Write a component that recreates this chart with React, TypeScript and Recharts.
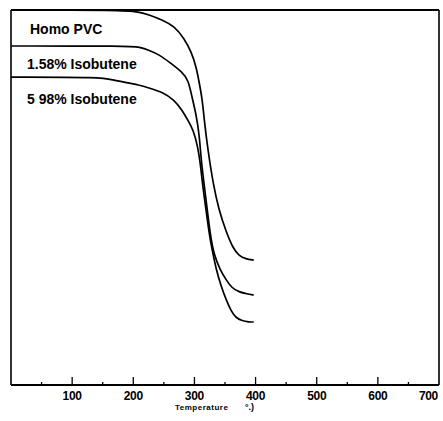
import { LineChart, Line, XAxis, YAxis, Label, ReferenceLine, CartesianGrid } from "recharts";

// thermogravimetric curves: temperature (C) vs weight (%)
const homoPvc = [
  { t: 0, w: 100 }, { t: 180, w: 100 }, { t: 210, w: 99.5 }, { t: 226, w: 98.7 },
  { t: 248, w: 97.3 }, { t: 267, w: 95.7 }, { t: 283, w: 92.5 }, { t: 295, w: 88.8 },
  { t: 303, w: 84.8 }, { t: 308, w: 80.5 }, { t: 313, w: 76 }, { t: 316, w: 70.7 },
  { t: 322, w: 62.7 }, { t: 331, w: 53.3 }, { t: 340, w: 46.7 }, { t: 352, w: 40.8 },
  { t: 363, w: 36.5 }, { t: 373, w: 34.4 }, { t: 384, w: 33.6 }, { t: 397, w: 33.3 },
];

const iso158 = [
  { t: 0, w: 90.4 }, { t: 194, w: 90.4 }, { t: 210, w: 90.1 }, { t: 226, w: 89.3 },
  { t: 243, w: 88 }, { t: 259, w: 86.1 }, { t: 280, w: 83.5 }, { t: 290, w: 81.3 },
  { t: 296, w: 76.8 }, { t: 303, w: 72 }, { t: 308, w: 66.7 }, { t: 311, w: 60 },
  { t: 316, w: 53.3 }, { t: 321, w: 46.7 }, { t: 326, w: 40 }, { t: 332, w: 34.7 },
  { t: 342, w: 30.7 }, { t: 352, w: 28 }, { t: 361, w: 25.9 }, { t: 373, w: 24.8 },
  { t: 386, w: 24.3 }, { t: 397, w: 24 },
];

const iso598 = [
  { t: 0, w: 82.1 }, { t: 150, w: 82.1 }, { t: 167, w: 81.3 }, { t: 183, w: 80.8 },
  { t: 210, w: 80 }, { t: 226, w: 79.2 }, { t: 248, w: 78.1 }, { t: 267, w: 76 },
  { t: 280, w: 73.3 }, { t: 291, w: 70.1 }, { t: 298, w: 68 }, { t: 305, w: 64 },
  { t: 310, w: 58.7 }, { t: 314, w: 52.5 }, { t: 319, w: 46.7 }, { t: 324, w: 40.5 },
  { t: 329, w: 36 }, { t: 335, w: 31.2 }, { t: 344, w: 26.1 }, { t: 352, w: 22.7 },
  { t: 360, w: 19.7 }, { t: 368, w: 17.9 }, { t: 378, w: 17.1 }, { t: 389, w: 16.8 },
  { t: 397, w: 16.8 },
];

const seriesLabels = ["Homo PVC", "1.58% Isobutene", "5 98% Isobutene"];
const xTicks = [50, 100, 150, 200, 250, 300, 350, 400, 450, 500, 550, 600, 650, 700];
const yTicks = [0, 100];

const TempTick = (props: any) => {
  const { x, y, payload } = props;
  const v = payload.value;
  const major = v % 100 === 0;
  return (
    <g>
      {v < 700 && (
        <line x1={x} y1={y} x2={x} y2={y - (major ? 8 : 3)} stroke="#000" strokeWidth={1.3} />
      )}
      {major && (
        <text
          x={v === 700 ? x - 1 : x}
          y={y + 15}
          textAnchor={v === 700 ? "end" : "middle"}
          fontFamily="Liberation Sans, Arial, sans-serif"
          fontWeight="bold"
          fontSize={12}
          letterSpacing={-0.3}
          fill="#000"
        >
          {v}
        </text>
      )}
    </g>
  );
};

const labelStyle = {
  position: "absolute" as const,
  left: 27,
  fontFamily: "Liberation Sans, Arial, sans-serif",
  fontWeight: "bold" as const,
  fontSize: 14,
  lineHeight: "14px",
  color: "#000",
  whiteSpace: "nowrap" as const,
};

export default function App() {
  return (
    <div style={{ position: "fixed", left: 0, top: 0, width: 443, height: 421, background: "#fff" }}>
      <LineChart width={443} height={421} margin={{ top: 10, right: 4, bottom: 0, left: 11 }}>
        {/* frame top: grid line at the 100% tick */}
        <CartesianGrid vertical={false} stroke="#000" strokeWidth={1.8} strokeDasharray="0" />
        <XAxis
          dataKey="t"
          type="number"
          domain={[0, 700]}
          ticks={xTicks}
          tick={<TempTick />}
          tickLine={false}
          tickSize={0}
          tickMargin={0}
          height={36}
          stroke="#000"
          strokeWidth={1.6}
          interval={0}
          allowDataOverflow
        >
          <Label
            content={(p: any) => {
              const vb = p.viewBox;
              return (
                <g fontFamily="Liberation Sans, Arial, sans-serif" fontWeight="bold" fontSize={8} fill="#000">
                  <text x={175} y={vb.y + 25} letterSpacing={0.5}>Temperature</text>
                  <text x={245} y={vb.y + 25} fontSize={9}>°.)</text>
                </g>
              );
            }}
          />
        </XAxis>
        <YAxis
          type="number"
          domain={[0, 100]}
          ticks={yTicks}
          interval={0}
          tick={false}
          tickLine={false}
          axisLine={false}
          width={0}
        />
        <ReferenceLine x={0} stroke="#000" strokeWidth={1.6} ifOverflow="visible" />
        <ReferenceLine x={700} stroke="#000" strokeWidth={1.6} ifOverflow="visible" />
        <Line data={homoPvc} dataKey="w" type="basis" stroke="#000" strokeWidth={1.7} dot={false} isAnimationActive={false} />
        <Line data={iso158} dataKey="w" type="basis" stroke="#000" strokeWidth={1.7} dot={false} isAnimationActive={false} />
        <Line data={iso598} dataKey="w" type="basis" stroke="#000" strokeWidth={1.7} dot={false} isAnimationActive={false} />
      </LineChart>
      <div style={{ ...labelStyle, left: 30, top: 22 }}>{seriesLabels[0]}</div>
      <div style={{ ...labelStyle, top: 57 }}>{seriesLabels[1]}</div>
      <div style={{ ...labelStyle, top: 92 }}>{seriesLabels[2]}</div>
    </div>
  );
}
